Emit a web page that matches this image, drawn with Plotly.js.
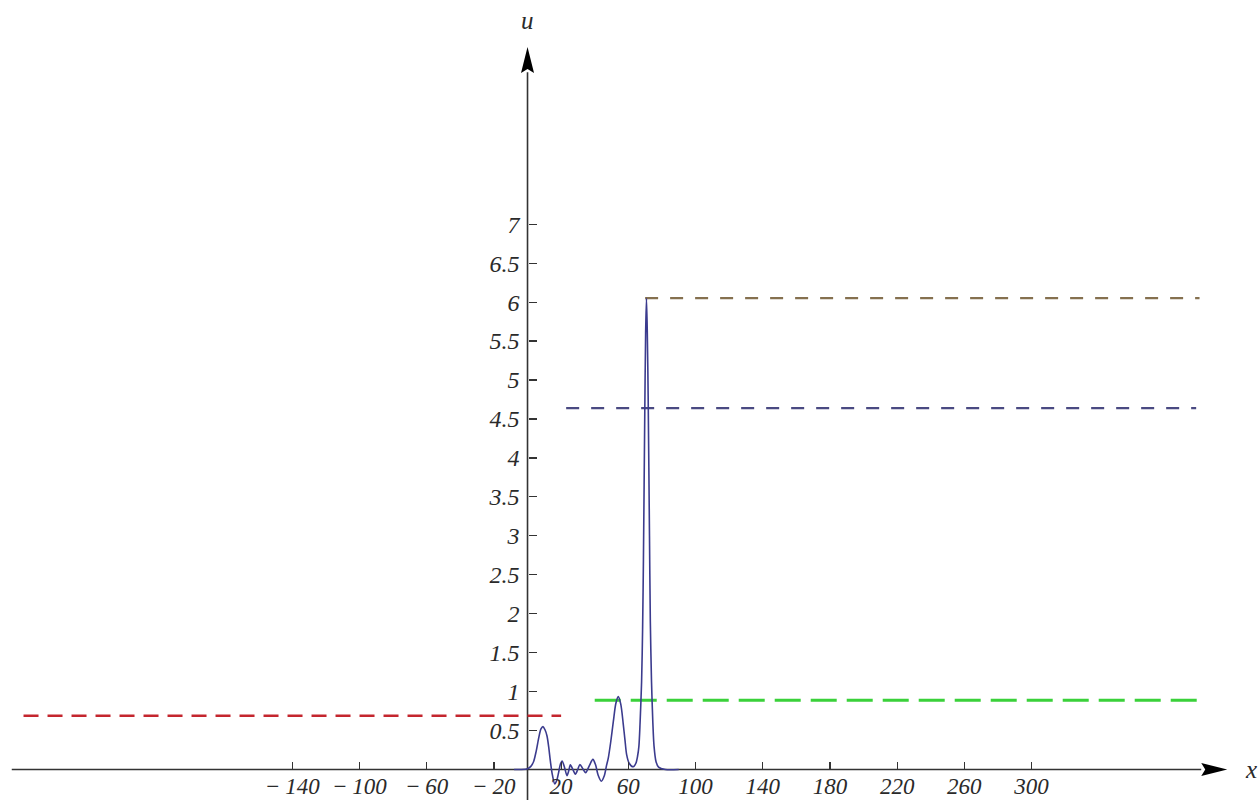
<!DOCTYPE html>
<html>
<head>
<meta charset="utf-8">
<script src="https://cdn.plot.ly/plotly-3.0.1.min.js"></script>
<style>
  html, body { margin: 0; padding: 0; background: #ffffff; }
  #chart { width: 1259px; height: 800px; }
</style>
</head>
<body>
<div id="chart"></div>
<script>
// Profile u(x) of the wave train
const waveX = [-8, -4, 0, 2, 3.7, 5.2, 6.7, 8, 9.2, 10.4, 11.6, 12.6, 13.6, 14.8, 16.2, 17.4,
  18.5, 19.6, 20.6, 22, 23.5, 24.5, 25.5, 27, 28.5, 29.9, 31.2, 32.9, 34.6, 36.8, 38.9,
  40.5, 42, 43.9, 45.7, 47, 48.1, 49.5, 51.1, 52.6, 54, 55.5, 57, 58, 59, 60.5, 62.9,
  64.5, 65.5, 66.3, 67, 67.9, 68.5, 69, 69.8, 70.3, 70.8, 71.3, 71.8, 72.6, 73.1, 73.8,
  74.6, 75.3, 76.5, 78, 82, 90];
const waveU = [0, 0, 0.01, 0.04, 0.107, 0.24, 0.41, 0.52, 0.55, 0.51, 0.43, 0.29, 0.107, -0.07, -0.185, -0.14,
  -0.04, 0.07, 0.11, 0.03, -0.08, -0.02, 0.06, 0.0, -0.06, 0.0, 0.065, 0.01, -0.04, 0.05, 0.13,
  0.06, -0.07, -0.15, -0.08, 0.05, 0.15, 0.35, 0.62, 0.85, 0.935, 0.84, 0.58, 0.38, 0.19, 0.08, 0.035,
  0.08, 0.17, 0.3, 0.6, 1.13, 1.8, 2.7, 4.6, 5.6, 6.05, 5.6, 4.8, 3.0, 1.9, 1.13,
  0.6, 0.3, 0.1, 0.03, 0, 0];

// Reference levels (dashed)
const redX = [-300, 20];      const redU = [0.69, 0.69];
const greenX = [40, 400];     const greenU = [0.89, 0.89];
const navyX = [23, 398];      const navyU = [4.64, 4.64];
const brownX = [70, 400];     const brownU = [6.05, 6.05];

// Axis ticks
const xTickVals = [-140, -100, -60, -20, 20, 60, 100, 140, 180, 220, 260, 300];
const xTickText = ['\u2212\u2009140', '\u2212\u2009100', '\u2212\u200960', '\u2212\u200920', '20', '60', '100', '140', '180', '220', '260', '300'];
const yTickVals = [0.5, 1, 1.5, 2, 2.5, 3, 3.5, 4, 4.5, 5, 5.5, 6, 6.5, 7];
const yTickText = ['0.5', '1', '1.5', '2', '2.5', '3', '3.5', '4', '4.5', '5', '5.5', '6', '6.5', '7'];

// Axis extents
const xAxisStart = -307, xAxisEnd = 401, xArrowTip = 416.5;
const yAxisStart = -0.40, yAxisEnd = 8.95, yArrowTip = 9.275;

const xRange = [-314.0, 435.4];
const yRange = [-0.3915, 9.878];

const W = 1259, H = 800;
const pxPerX = W / (xRange[1] - xRange[0]);
const pxPerY = H / (yRange[1] - yRange[0]);

const serif = 'Liberation Serif, Times New Roman, serif';
const axisColor = '#333333';
const labelColor = '#2a2a2a';

function arrowPath(tipX, tipY, dir) {
  // filled arrowhead, 26 px long, 13 px wide, with a small notch at the back
  const L = 26, hw = 6.5, notch = 4;
  if (dir === 'right') {
    const bx = tipX - L / pxPerX, nx = tipX - (L - notch) / pxPerX, dy = hw / pxPerY;
    return `M${tipX},${tipY} L${bx},${tipY + dy} L${nx},${tipY} L${bx},${tipY - dy} Z`;
  }
  const by = tipY - L / pxPerY, ny = tipY - (L - notch) / pxPerY, dx = hw / pxPerX;
  return `M${tipX},${tipY} L${tipX + dx},${by} L${tipX},${ny} L${tipX - dx},${by} Z`;
}

function dashed(x, y, color, width, dash) {
  return { x, y, type: 'scatter', mode: 'lines', hoverinfo: 'skip',
    line: { color, width, dash } };
}

const traces = [
  dashed(redX, redU, '#c4262e', 2.5, '15px,9px'),
  dashed(greenX, greenU, '#3ad13a', 3, '26px,10px'),
  dashed(navyX, navyU, '#4a4a82', 2.2, '13px,12px'),
  dashed(brownX, brownU, '#85704f', 2.2, '13px,12px'),
  { x: waveX, y: waveU, type: 'scatter', mode: 'lines', hoverinfo: 'skip',
    line: { color: '#3b3b8e', width: 1.6, shape: 'spline', smoothing: 0.8 } }
];

const layout = {
  width: W, height: H,
  margin: { l: 0, r: 0, t: 0, b: 0, pad: 0 },
  paper_bgcolor: '#ffffff', plot_bgcolor: '#ffffff',
  showlegend: false,
  xaxis: {
    range: xRange, anchor: 'free', position: (0 - yRange[0]) / (yRange[1] - yRange[0]),
    showgrid: false, zeroline: false, showline: false,
    tickmode: 'array', tickvals: xTickVals, ticktext: xTickText,
    ticks: 'inside', ticklen: 8, tickwidth: 1.2, tickcolor: axisColor,
    ticklabelstandoff: 0,
    tickfont: { family: serif, size: 23, style: 'italic', color: labelColor },
    automargin: false, fixedrange: true
  },
  yaxis: {
    range: yRange, anchor: 'free', position: (0 - xRange[0]) / (xRange[1] - xRange[0]),
    showgrid: false, zeroline: false, showline: false,
    tickmode: 'array', tickvals: yTickVals, ticktext: yTickText,
    ticks: 'inside', ticklen: 8, tickwidth: 1.2, tickcolor: axisColor,
    ticklabelstandoff: 8,
    tickfont: { family: serif, size: 24, style: 'italic', color: labelColor },
    automargin: false, fixedrange: true
  },
  shapes: [
    { type: 'line', xref: 'x', yref: 'y', x0: xAxisStart, x1: xAxisEnd, y0: 0, y1: 0,
      line: { color: axisColor, width: 1.6 }, layer: 'below' },
    { type: 'line', xref: 'x', yref: 'y', x0: 0, x1: 0, y0: yAxisStart, y1: yAxisEnd,
      line: { color: axisColor, width: 1.6 }, layer: 'below' },
    { type: 'path', xref: 'x', yref: 'y', path: arrowPath(xArrowTip, 0, 'right'),
      fillcolor: '#000000', line: { width: 0 } },
    { type: 'path', xref: 'x', yref: 'y', path: arrowPath(0, yArrowTip, 'up'),
      fillcolor: '#000000', line: { width: 0 } }
  ],
  annotations: [
    { x: 0, y: 9.62, xref: 'x', yref: 'y', text: 'u', showarrow: false,
      font: { family: serif, size: 25, style: 'italic', color: labelColor } },
    { x: 430.5, y: 0, xref: 'x', yref: 'y', text: 'x', showarrow: false,
      font: { family: serif, size: 25, style: 'italic', color: labelColor } }
  ]
};

Plotly.newPlot('chart', traces, layout, { staticPlot: true, displayModeBar: false });
</script>
</body>
</html>
